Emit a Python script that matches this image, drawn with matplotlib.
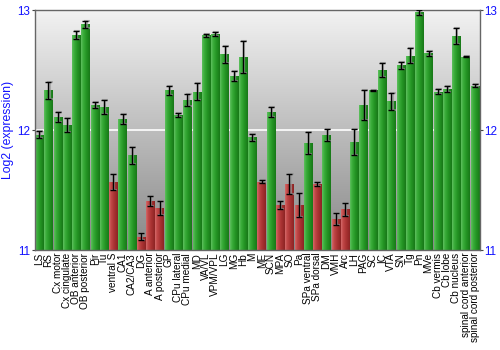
import matplotlib
matplotlib.use("Agg")
import matplotlib.pyplot as plt
import numpy as np
from matplotlib.colors import LinearSegmentedColormap

regions = ["LS", "RS", "Cx motor", "Cx cingulate", "OB anterior", "OB posterior", "Pir", "Tu",
           "ventral S", "CA1", "CA2/CA3", "DG", "A anterior", "A posterior", "GP", "CPu lateral",
           "CPu medial", "MD", "VA/VL", "VPM/VPL", "LG", "MG", "Hb", "M", "ME", "SCN", "MPA", "SO",
           "Pa", "SPa ventral", "SPa dorsal", "DM", "VMH", "Arc", "LH", "PAG", "SC", "IC", "VTA",
           "SN", "Tg", "Pn", "MVe", "Cb vermis", "Cb lobe", "Cb nucleus", "spinal cord anterior",
           "spinal cord posterior"]
values = [11.96, 12.33, 12.11, 12.04, 12.79, 12.88, 12.21, 12.19,
          11.57, 12.09, 11.79, 11.11, 11.41, 11.35, 12.33, 12.125,
          12.25, 12.32, 12.79, 12.80, 12.63, 12.45, 12.61, 11.94, 11.57, 12.15, 11.375, 11.55,
          11.375, 11.89, 11.55, 11.96, 11.26, 11.34, 11.90, 12.21, 12.33, 12.50, 12.24,
          12.54, 12.62, 12.98, 12.64, 12.32, 12.34, 12.78, 12.61,
          12.37]
errors = [0.03, 0.07, 0.04, 0.06, 0.035, 0.03, 0.025, 0.06,
          0.067, 0.04, 0.07, 0.03, 0.04, 0.06, 0.035, 0.017,
          0.05, 0.07, 0.014, 0.018, 0.07, 0.04, 0.135, 0.03, 0.015, 0.04, 0.036, 0.08,
          0.10, 0.09, 0.02, 0.05, 0.05, 0.055, 0.105, 0.125, 0.005, 0.055, 0.07,
          0.03, 0.06, 0.02, 0.02, 0.018, 0.024, 0.067, 0.005,
          0.014]
threshold = 11.6

blue = "#1010ff"
fig = plt.figure(figsize=(5, 3.5), dpi=100)
ax = fig.add_axes([0.069, 0.2857, 0.89, 0.6857])
ymin, ymax = 11, 13
n = len(regions)
x = np.arange(n)

# background gradient
bg = LinearSegmentedColormap.from_list("bg", ["#888888", "#f2f2f2"])
grad = np.linspace(0, 1, 256).reshape(-1, 1)
ax.imshow(grad, aspect="auto", cmap=bg, origin="lower",
          extent=(-0.5, n - 0.5, ymin, ymax), zorder=0)
ax.axhline(12, color="white", lw=1.2, zorder=1)

green_cm = LinearSegmentedColormap.from_list(
    "g", [(0, "#5fbf5f"), (0.25, "#3aad3a"), (0.6, "#249424"), (1, "#187818")])
red_cm = LinearSegmentedColormap.from_list(
    "r", [(0, "#d46a6a"), (0.25, "#c04646"), (0.6, "#a83232"), (1, "#8c2424")])
hgrad = np.linspace(0, 1, 64).reshape(1, -1)

bars = ax.bar(x, [v - ymin for v in values], bottom=ymin, width=0.9,
              color="none", edgecolor="none", zorder=2)
for b, v in zip(bars, values):
    cm = red_cm if v < threshold else green_cm
    x0 = b.get_x()
    w = b.get_width()
    im = ax.imshow(hgrad, aspect="auto", cmap=cm,
                   extent=(x0, x0 + w, ymin, v), zorder=2)
    im.set_clip_path(b)

ax.errorbar(x + 0.12, values, yerr=errors, fmt="none", ecolor="#999999",
            elinewidth=1.5, capsize=2.5, capthick=1.5, zorder=3, alpha=0.7)
ax.errorbar(x, values, yerr=errors, fmt="none", ecolor="black",
            elinewidth=1, capsize=2.5, capthick=1, zorder=4)

ax.set_xlim(-0.5, n - 0.5)
ax.set_ylim(ymin, ymax)
ax.set_xticks(x)
ax.set_xticklabels(regions, rotation=90, fontsize=7.2, family="Liberation Sans")
ax.tick_params(axis="x", length=0, pad=2)
ax.set_yticks([11, 12, 13])
ax.set_yticklabels(["11", "12", "13"], family="Liberation Sans")
ax.tick_params(axis="y", colors="#444444", labelcolor=blue, labelsize=8.4,
               left=True, right=True, labelleft=True, labelright=True,
               length=2.5, pad=0.8, direction="out")
ax.set_ylabel("Log2 (expression)", color=blue, fontsize=8.8,
              family="Liberation Sans", labelpad=4)
ax.yaxis.set_label_coords(-0.046, 0.5)
for s in ax.spines.values():
    s.set_color("#666666")
    s.set_linewidth(1)

fig.savefig("out.png", dpi=100)
